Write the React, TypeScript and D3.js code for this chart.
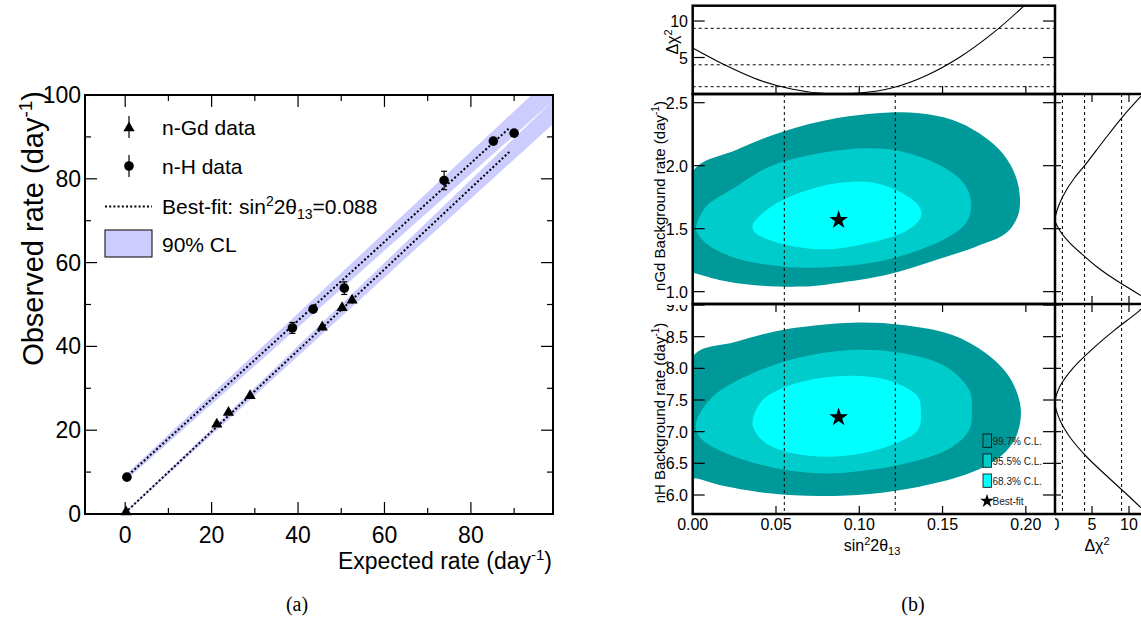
import React from "react";
import * as d3 from "d3";

// ---------------- Panel (a) data ----------------
const gdExpected = [0.2, 21.2, 23.9, 28.9, 45.6, 50.2, 52.5];
const gdObserved = [0.5, 21.4, 24.2, 28.2, 44.6, 49.2, 51.0];
const gdError = [0.3, 0.5, 0.5, 0.6, 0.8, 0.8, 0.8];
const hExpected = [0.4, 38.7, 43.5, 50.7, 73.8, 85.2, 90.0];
const hObserved = [8.8, 44.4, 48.9, 53.9, 79.6, 89.0, 90.9];
const hError = [0.6, 1.3, 0.8, 1.5, 2.2, 0.9, 0.9];
const fitGd: [number, number][] = [[0, 0.3], [89.1, 86.6]];
const fitH: [number, number][] = [[0, 8.6], [89.1, 92.3]];
// x, lower edge, upper edge of 90% CL bands
const bandGd: [number, number, number][] = [[0, 0.1, 0.5], [99, 93.1, 98.6]];
const bandH: [number, number, number][] = [[0, 7.9, 9.3], [99, 98.6, 104.8]];
const xMajorA = [0, 20, 40, 60, 80];
const xMinorA = [10, 30, 50, 70, 90];
const yMajorA = [0, 20, 40, 60, 80, 100];
const yMinorA = [10, 30, 50, 70, 90];

// ---------------- Panel (b) data ----------------
const sinTicks = [0, 0.05, 0.1, 0.15, 0.2];
const sinTickLabels = ["0.00", "0.05", "0.10", "0.15", "0.20"];
const gdTicks = [1.0, 1.5, 2.0, 2.5];
const hTicks = [6.0, 6.5, 7.0, 7.5, 8.0, 8.5, 9.0];
const chiTicks = [0, 5, 10];
const chiLevels = [1, 4, 9];
const sinOneSigma = [0.055, 0.1216];
const bestFit = { sin: 0.0876, gd: 1.569, h: 7.227 };

// top: delta chi2 vs sin^2 2theta13
const topSin = [0, 0.02, 0.04, 0.06, 0.08, 0.088, 0.1, 0.12, 0.14, 0.16, 0.18, 0.2];
const topChi = [6.3, 3.9, 1.9, 0.65, 0.05, 0, 0.12, 0.85, 2.5, 5.0, 8.3, 12.3];

// right: delta chi2 vs nGd background
const gdProfBg = [0.97, 1.1, 1.2, 1.3, 1.4, 1.5, 1.57, 1.65, 1.75, 1.9, 2.0, 2.2, 2.4, 2.55];
const gdProfChi = [11.6, 8.0, 5.6, 3.6, 1.8, 0.5, 0, 0.3, 1.0, 2.6, 4.0, 6.6, 9.3, 11.6];
// right: delta chi2 vs nH background
const hProfBg = [5.8, 6.0, 6.3, 6.6, 6.9, 7.2, 7.45, 7.7, 8.0, 8.3, 8.6, 8.9, 9.0];
const hProfChi = [11.6, 9.8, 7.0, 4.3, 2.1, 0.6, 0, 0.6, 2.4, 5.0, 8.0, 11.3, 12.3];

// contours nGd panel [sin, bg]
const gdC997: [number, number][] = [[0, 1.146], [0, 1.952], [0.026, 2.125], [0.054, 2.27], [0.086, 2.376], [0.116, 2.421], [0.136, 2.416], [0.156, 2.363], [0.172, 2.257], [0.186, 2.098], [0.194, 1.913], [0.1965, 1.728], [0.195, 1.595], [0.188, 1.463], [0.17, 1.357], [0.146, 1.252], [0.116, 1.132], [0.086, 1.067], [0.066, 1.04], [0.036, 1.053], [0.016, 1.093], [0.001, 1.146]];
const gdC955: [number, number][] = [[0.002, 1.516], [0.008, 1.675], [0.026, 1.833], [0.046, 1.992], [0.076, 2.098], [0.106, 2.138], [0.126, 2.111], [0.146, 2.019], [0.16, 1.9], [0.166, 1.781], [0.167, 1.648], [0.164, 1.543], [0.154, 1.437], [0.136, 1.331], [0.116, 1.252], [0.086, 1.198], [0.056, 1.198], [0.026, 1.265], [0.008, 1.384], [0.002, 1.49]];
const gdC683: [number, number][] = [[0.036, 1.529], [0.042, 1.622], [0.054, 1.728], [0.076, 1.833], [0.096, 1.873], [0.112, 1.855], [0.126, 1.781], [0.136, 1.675], [0.137, 1.595], [0.132, 1.516], [0.12, 1.437], [0.1, 1.371], [0.08, 1.336], [0.062, 1.357], [0.046, 1.41], [0.037, 1.476]];
// contours nH panel [sin, bg]
const hC997: [number, number][] = [[0, 6.264], [0, 8.184], [0.026, 8.421], [0.056, 8.616], [0.096, 8.721], [0.126, 8.684], [0.156, 8.526], [0.176, 8.237], [0.19, 7.868], [0.1965, 7.448], [0.1965, 7.132], [0.192, 6.816], [0.182, 6.553], [0.166, 6.343], [0.136, 6.131], [0.106, 6.016], [0.076, 5.984], [0.046, 6.027], [0.016, 6.158], [0.002, 6.264]];
const hC955: [number, number][] = [[0.002, 7.132], [0.012, 7.552], [0.036, 7.922], [0.066, 8.184], [0.096, 8.29], [0.126, 8.237], [0.152, 8.026], [0.166, 7.658], [0.1676, 7.342], [0.166, 7.026], [0.156, 6.763], [0.136, 6.553], [0.106, 6.395], [0.076, 6.343], [0.046, 6.447], [0.02, 6.658], [0.004, 6.921]];
const hC683: [number, number][] = [[0.036, 7.184], [0.042, 7.5], [0.056, 7.71], [0.076, 7.843], [0.1, 7.879], [0.12, 7.789], [0.1352, 7.552], [0.137, 7.289], [0.1352, 7.026], [0.122, 6.816], [0.102, 6.658], [0.08, 6.605], [0.06, 6.658], [0.044, 6.816], [0.037, 7.026]];

const legendB = [
  { label: "99.7% C.L.", color: "#009999" },
  { label: "95.5% C.L.", color: "#00cccc" },
  { label: "68.3% C.L.", color: "#00ffff" },
];

const FONT = "'Liberation Sans', Arial, Helvetica, sans-serif";
const SERIF = "'Liberation Serif', 'DejaVu Serif', serif";

export default function App() {
  // ---- scales (a)
  const xA = d3.scaleLinear().domain([-9.3, 99]).range([85, 553]);
  const yA = d3.scaleLinear().domain([0, 100]).range([514, 95]);
  // ---- scales (b)
  const xB = d3.scaleLinear().domain([0, 0.2175]).range([692.7, 1055]);
  const yTop = d3.scaleLinear().domain([0, 12.1]).range([94, 5.7]);
  const yMid = d3.scaleLinear().domain([0.902, 2.569]).range([304, 94]);
  const yBot = d3.scaleLinear().domain([5.7, 9.016]).range([514, 304]);
  const xR = d3.scaleLinear().domain([0, 12]).range([1055, 1055 + 12 * 7.4]);

  const areaA = d3.area<[number, number, number]>().x((d) => xA(d[0])).y0((d) => yA(d[1])).y1((d) => yA(d[2]));
  const lineA = d3.line<[number, number]>().x((d) => xA(d[0])).y((d) => yA(d[1]));
  const tri = d3.symbol(d3.symbolTriangle, 55)()!;
  const star = d3.symbol(d3.symbolStar, 110)()!;
  const starSmall = d3.symbol(d3.symbolStar, 60)()!;

  const polyMid = d3.line<[number, number]>().x((d) => xB(d[0])).y((d) => yMid(d[1])).curve(d3.curveCatmullRomClosed.alpha(0.5));
  const polyBot = d3.line<[number, number]>().x((d) => xB(d[0])).y((d) => yBot(d[1])).curve(d3.curveCatmullRomClosed.alpha(0.5));

  const topLine = d3.line<number>().x((_, i) => xB(topSin[i])).y((d) => yTop(d)).curve(d3.curveMonotoneX);
  const gdProf = d3.line<number>().x((d) => xR(d)).y((_, i) => yMid(gdProfBg[i])).curve(d3.curveMonotoneY);
  const hProf = d3.line<number>().x((d) => xR(d)).y((_, i) => yBot(hProfBg[i])).curve(d3.curveMonotoneY);

  const errBar = (x: number, y: number, e: number, key: string) => {
    const y0 = yA(y - e), y1 = yA(y + e);
    return (
      <g key={key} stroke="#000" strokeWidth={1.2}>
        <line x1={xA(x)} x2={xA(x)} y1={y0} y2={y1} />
        {y0 - y1 > 10 && <line x1={xA(x) - 3} x2={xA(x) + 3} y1={y0} y2={y0} />}
        {y0 - y1 > 10 && <line x1={xA(x) - 3} x2={xA(x) + 3} y1={y1} y2={y1} />}
      </g>
    );
  };

  return (
    <div style={{ position: "absolute", left: 0, top: 0 }}>
      <svg width={1141} height={623} style={{ display: "block", background: "#fff" }} fontFamily={FONT}>
        <defs>
          <clipPath id="clipA"><rect x={85} y={95} width={468} height={419} /></clipPath>
          <clipPath id="clipTop"><rect x={692.7} y={5.7} width={362.3} height={88.3} /></clipPath>
          <clipPath id="clipMid"><rect x={692.7} y={94} width={362.3} height={210} /></clipPath>
          <clipPath id="clipBot"><rect x={692.7} y={304} width={362.3} height={210} /></clipPath>
          <clipPath id="clipRMid"><rect x={1055} y={94} width={86} height={210} /></clipPath>
          <clipPath id="clipRBot"><rect x={1055} y={304} width={86} height={210} /></clipPath>
          <clipPath id="clipBotLab"><rect x={600} y={305} width={100} height={220} /></clipPath>
          <clipPath id="clipRLab"><rect x={1055} y={514} width={86} height={40} /></clipPath>
        </defs>

        {/* ================= Panel (a) ================= */}
        <g clipPath="url(#clipA)">
          <path d={areaA(bandH)!} fill="#ccccff" />
          <path d={areaA(bandGd)!} fill="#ccccff" />
          <path d={lineA(fitH)!} fill="none" stroke="#000" strokeWidth={2} strokeDasharray="2,2.2" />
          <path d={lineA(fitGd)!} fill="none" stroke="#000" strokeWidth={2} strokeDasharray="2,2.2" />
        </g>
        {gdExpected.map((x, i) => errBar(x, gdObserved[i], gdError[i], "ge" + i))}
        {hExpected.map((x, i) => errBar(x, hObserved[i], hError[i], "he" + i))}
        {gdExpected.map((x, i) => (
          <path key={"g" + i} d={tri} transform={`translate(${xA(x)},${yA(gdObserved[i])})`} fill="#000" />
        ))}
        {hExpected.map((x, i) => (
          <circle key={"h" + i} cx={xA(x)} cy={yA(hObserved[i])} r={4.8} fill="#000" />
        ))}

        {/* ticks */}
        <g stroke="#000" strokeWidth={1.2}>
          {xMajorA.map((t) => (
            <g key={"xm" + t}>
              <line x1={xA(t)} x2={xA(t)} y1={514} y2={502} />
              <line x1={xA(t)} x2={xA(t)} y1={95} y2={107} />
            </g>
          ))}
          {xMinorA.map((t) => (
            <g key={"xn" + t}>
              <line x1={xA(t)} x2={xA(t)} y1={514} y2={508} />
              <line x1={xA(t)} x2={xA(t)} y1={95} y2={101} />
            </g>
          ))}
          {yMajorA.map((t) => (
            <g key={"ym" + t}>
              <line x1={85} x2={97} y1={yA(t)} y2={yA(t)} />
              <line x1={553} x2={541} y1={yA(t)} y2={yA(t)} />
            </g>
          ))}
          {yMinorA.map((t) => (
            <g key={"yn" + t}>
              <line x1={85} x2={91} y1={yA(t)} y2={yA(t)} />
              <line x1={553} x2={547} y1={yA(t)} y2={yA(t)} />
            </g>
          ))}
        </g>
        <rect x={85} y={95} width={468} height={419} fill="none" stroke="#000" strokeWidth={2} />

        {/* tick labels */}
        <g fontSize={23} fill="#000">
          {xMajorA.map((t) => (
            <text key={"xl" + t} x={xA(t)} y={543} textAnchor="middle">{t}</text>
          ))}
          {yMajorA.map((t) => (
            <text key={"yl" + t} x={81} y={yA(t) + 8} textAnchor="end">{t}</text>
          ))}
        </g>
        <text x={552} y={569} textAnchor="end" fontSize={23}>
          Expected rate (day<tspan dy={-9} fontSize={15}>-1</tspan><tspan dy={9}>)</tspan>
        </text>
        <text transform="translate(43,91) rotate(-90)" textAnchor="end" fontSize={29}>
          Observed rate (day<tspan dy={-11} fontSize={19}>-1</tspan><tspan dy={11}>)</tspan>
        </text>

        {/* legend (a) */}
        <g fontSize={21}>
          <line x1={129} x2={129} y1={116} y2={138} stroke="#000" strokeWidth={1.2} />
          <path d={tri} transform="translate(129,128)" fill="#000" />
          <text x={162} y={134.5}>n-Gd data</text>
          <line x1={129} x2={129} y1={155} y2={177} stroke="#000" strokeWidth={1.2} />
          <circle cx={129} cy={166} r={4.8} fill="#000" />
          <text x={162} y={173.5}>n-H data</text>
          <line x1={105} x2={152} y1={206.5} y2={206.5} stroke="#000" strokeWidth={2} strokeDasharray="2,2.2" />
          <text x={162} y={213.5}>
            Best-fit: sin<tspan dy={-8} fontSize={14}>2</tspan><tspan dy={8}>2θ</tspan>
            <tspan dy={5} fontSize={14}>13</tspan><tspan dy={-5}>=0.088</tspan>
          </text>
          <rect x={105} y={230} width={47} height={27} fill="#ccccff" stroke="#000" strokeWidth={1} />
          <text x={162} y={251.5}>90% CL</text>
        </g>
        <text x={297} y={611} textAnchor="middle" fontSize={20} fontFamily={SERIF}>(a)</text>

        {/* ================= Panel (b) ================= */}
        {/* top delta chi2 panel */}
        <g clipPath="url(#clipTop)">
          {chiLevels.map((c) => (
            <line key={"tl" + c} x1={692.7} x2={1055} y1={yTop(c)} y2={yTop(c)} stroke="#000" strokeWidth={1} strokeDasharray="3,3" />
          ))}
          <path d={topLine(topChi)!} fill="none" stroke="#000" strokeWidth={1.1} />
        </g>

        {/* contour panels */}
        <g clipPath="url(#clipMid)">
          <path d={polyMid(gdC997)!} fill="#009999" />
          <path d={polyMid(gdC955)!} fill="#00cccc" />
          <path d={polyMid(gdC683)!} fill="#00ffff" />
        </g>
        <g clipPath="url(#clipBot)">
          <path d={polyBot(hC997)!} fill="#009999" />
          <path d={polyBot(hC955)!} fill="#00cccc" />
          <path d={polyBot(hC683)!} fill="#00ffff" />
        </g>
        {sinOneSigma.map((s) => (
          <line key={"vs" + s} x1={xB(s)} x2={xB(s)} y1={94} y2={514} stroke="#000" strokeWidth={1} strokeDasharray="3,3" />
        ))}
        <path d={star} transform={`translate(${xB(bestFit.sin)},${yMid(bestFit.gd)})`} fill="#000" />
        <path d={star} transform={`translate(${xB(bestFit.sin)},${yBot(bestFit.h)})`} fill="#000" />

        {/* right profile panels */}
        {chiLevels.map((c) => (
          <line key={"rv" + c} x1={xR(c)} x2={xR(c)} y1={94} y2={514} stroke="#000" strokeWidth={1} strokeDasharray="3,3" />
        ))}
        <g clipPath="url(#clipRMid)">
          <path d={gdProf(gdProfChi)!} fill="none" stroke="#000" strokeWidth={1.1} />
        </g>
        <g clipPath="url(#clipRBot)">
          <path d={hProf(hProfChi)!} fill="none" stroke="#000" strokeWidth={1.1} />
        </g>

        {/* legend (b) */}
        <g fontSize={10} fill="#222">
          {legendB.map((l, i) => (
            <g key={l.label}>
              <rect x={983} y={434 + i * 20} width={8.5} height={13.3} fill={l.color} stroke="#000" strokeWidth={0.8} />
              <text x={992.5} y={444.5 + i * 20}>{l.label}</text>
            </g>
          ))}
          <path d={starSmall} transform="translate(987,501)" fill="#000" />
          <text x={992.5} y={504.5}>Best-fit</text>
        </g>

        {/* ticks (b) */}
        <g stroke="#000" strokeWidth={1.2}>
          {sinTicks.map((t) => (
            <g key={"st" + t}>
              <line x1={xB(t)} x2={xB(t)} y1={514} y2={506} />
              <line x1={xB(t)} x2={xB(t)} y1={304} y2={312} />
              <line x1={xB(t)} x2={xB(t)} y1={94} y2={86} />
            </g>
          ))}
          {[5, 10].map((t) => (
            <g key={"tt" + t}>
              <line x1={692.7} x2={704.7} y1={yTop(t)} y2={yTop(t)} />
              <line x1={1055} x2={1043} y1={yTop(t)} y2={yTop(t)} />
            </g>
          ))}
          {gdTicks.map((t) => (
            <g key={"gt" + t}>
              <line x1={692.7} x2={704.7} y1={yMid(t)} y2={yMid(t)} />
              <line x1={1055} x2={1043} y1={yMid(t)} y2={yMid(t)} />
              <line x1={1055} x2={1061} y1={yMid(t)} y2={yMid(t)} />
            </g>
          ))}
          {hTicks.map((t) => (
            <g key={"ht" + t}>
              <line x1={692.7} x2={704.7} y1={yBot(t)} y2={yBot(t)} />
              <line x1={1055} x2={1043} y1={yBot(t)} y2={yBot(t)} />
              <line x1={1055} x2={1061} y1={yBot(t)} y2={yBot(t)} />
            </g>
          ))}
          {[5, 10].map((t) => (
            <g key={"rt" + t}>
              <line x1={xR(t)} x2={xR(t)} y1={94} y2={102} />
              <line x1={xR(t)} x2={xR(t)} y1={304} y2={296} />
              <line x1={xR(t)} x2={xR(t)} y1={304} y2={312} />
              <line x1={xR(t)} x2={xR(t)} y1={514} y2={506} />
            </g>
          ))}
        </g>

        {/* frames (b) */}
        <g fill="none" stroke="#000" strokeWidth={2.5}>
          <rect x={692.7} y={5.7} width={362.3} height={88.3} />
          <rect x={692.7} y={94} width={362.3} height={210} />
          <rect x={692.7} y={304} width={362.3} height={210} />
          <line x1={1055} x2={1141} y1={94} y2={94} />
          <line x1={1055} x2={1141} y1={304} y2={304} />
          <line x1={1055} x2={1141} y1={514} y2={514} />
        </g>

        {/* labels (b) */}
        <g fontSize={16} fill="#000">
          {sinTicks.map((t, i) => (
            <text key={"sl" + t} x={xB(t)} y={530} textAnchor="middle">{sinTickLabels[i]}</text>
          ))}
          {[5, 10].map((t) => (
            <text key={"tyl" + t} x={688} y={yTop(t) + 6} textAnchor="end">{t}</text>
          ))}
          {gdTicks.map((t) => (
            <text key={"gyl" + t} x={688} y={yMid(t) + 6} textAnchor="end">{t.toFixed(1)}</text>
          ))}
          <g clipPath="url(#clipBotLab)">
            {hTicks.map((t) => (
              <text key={"hyl" + t} x={688} y={yBot(t) + 6} textAnchor="end">{t.toFixed(1)}</text>
            ))}
          </g>
          <g clipPath="url(#clipRLab)">
            {chiTicks.map((t) => (
              <text key={"cl" + t} x={xR(t)} y={530} textAnchor="middle">{t}</text>
            ))}
          </g>
          <text x={872} y={551} textAnchor="middle">
            sin<tspan dy={-6} fontSize={11}>2</tspan><tspan dy={6}>2θ</tspan>
            <tspan dy={4} fontSize={11}>13</tspan>
          </text>
          <text x={1097} y={551} textAnchor="middle">
            Δχ<tspan dy={-6} fontSize={11}>2</tspan>
          </text>
          <text transform="translate(678,42) rotate(-90)" textAnchor="middle">
            Δχ<tspan dy={-6} fontSize={11}>2</tspan>
          </text>
          <text transform="translate(665,196) rotate(-90)" textAnchor="middle" fontSize={15}>
            nGd Background rate (day<tspan dy={-6} fontSize={10}>-1</tspan><tspan dy={6}>)</tspan>
          </text>
          <text transform="translate(665,413) rotate(-90)" textAnchor="middle" fontSize={15}>
            nH Background rate (day<tspan dy={-6} fontSize={10}>-1</tspan><tspan dy={6}>)</tspan>
          </text>
        </g>
        <text x={913} y={611} textAnchor="middle" fontSize={20} fontFamily={SERIF}>(b)</text>
      </svg>
    </div>
  );
}
